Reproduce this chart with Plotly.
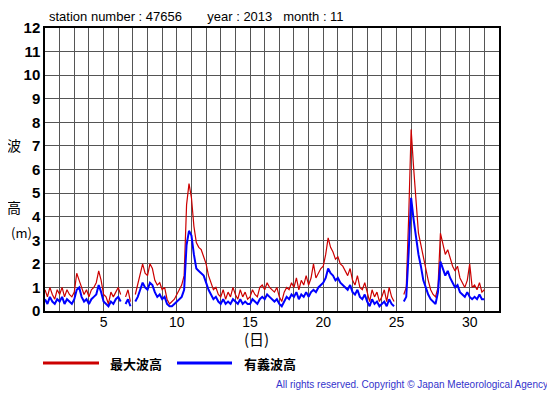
import plotly.graph_objects as go

# 6 samples per day (every 4 hours), Nov 1 00:00 .. Nov 30 20:00, plus Dec 1 00:00
max_wave = [
    0.9, 0.6, 1.0, 0.7, 0.5, 0.9,
    0.7, 1.0, 0.6, 0.9, 0.7, 0.6,
    0.8, 1.6, 1.3, 1.0, 0.7, 0.9,
    0.6, 0.9, 1.0, 1.2, 1.7, 1.3,
    0.7, 0.6, 0.3, 0.8, 0.6, 0.8,
    1.0, 0.7, None, 0.6, 0.9, 0.4,
    None, 0.7, 1.1, 1.5, 2.0, 1.6,
    1.5, 2.0, 1.8, 1.3, 1.1, 1.2,
    0.9, 1.0, 0.5, 0.3, 0.4, 0.5,
    0.7, 0.9, 1.1, 1.5, 4.5, 5.4,
    4.8, 3.6, 2.9, 2.7, 2.6, 2.3,
    2.0, 1.5, 1.2, 0.9, 1.0, 0.7,
    0.6, 0.9, 0.5, 0.8, 0.6, 1.0,
    0.7, 0.5, 0.9, 0.6, 0.8, 0.5,
    0.6, 0.9, 0.7, 0.6, 1.0, 1.1,
    0.9, 1.2, 1.0, 0.9, 0.8, 1.0,
    0.6, 0.4, 0.8, 1.0, 0.9, 1.2,
    1.0, 1.4, 0.9, 1.3, 1.1, 1.5,
    1.1, 1.4, 2.0, 1.4, 1.6, 1.8,
    1.9, 2.4, 3.1, 2.7, 2.5, 2.2,
    2.3, 2.0, 1.9, 1.7, 1.5, 1.8,
    1.3, 1.1, 1.5, 1.0, 0.9, 1.2,
    0.8, 0.4, 0.9, 0.6, 0.8, 0.4,
    0.6, 0.9, 0.4, 1.0, 0.6, 0.4,
    None, 0.6, None, 0.7, 1.0, 4.0,
    7.7, 6.1, 4.6, 3.3, 2.8, 2.3,
    1.7, 1.3, 0.9, 0.7, 0.6, 1.0,
    3.3, 2.8, 2.4, 2.6, 2.2, 1.9,
    1.7, 1.9, 1.4, 1.2, 1.0, 1.3,
    2.0, 1.0, 1.1, 0.9, 1.2, 0.8,
    0.9,
]

sig_wave = [
    0.5, 0.3, 0.6, 0.4, 0.3, 0.5,
    0.4, 0.6, 0.3, 0.5, 0.4, 0.3,
    0.5, 0.9, 1.0, 0.6, 0.4, 0.5,
    0.3, 0.5, 0.6, 0.7, 1.1, 0.8,
    0.4, 0.3, 0.2, 0.4, 0.3, 0.5,
    0.6, 0.4, None, 0.3, 0.5, 0.2,
    None, 0.4, 0.6, 0.9, 1.2, 1.0,
    0.9, 1.2, 1.1, 0.8, 0.6, 0.7,
    0.5, 0.6, 0.3, 0.2, 0.2, 0.3,
    0.4, 0.5, 0.6, 0.9, 2.8, 3.4,
    3.2, 2.4, 1.8, 1.7, 1.6, 1.5,
    1.2, 0.9, 0.7, 0.5, 0.6, 0.4,
    0.3, 0.5, 0.3, 0.4, 0.3, 0.5,
    0.4, 0.3, 0.5, 0.3, 0.4, 0.3,
    0.3, 0.5, 0.4, 0.3, 0.5, 0.6,
    0.5, 0.7, 0.6, 0.5, 0.4, 0.5,
    0.3, 0.2, 0.4, 0.6, 0.5, 0.7,
    0.6, 0.8, 0.5, 0.7, 0.6, 0.8,
    0.6, 0.8, 0.9, 0.8, 1.0, 1.1,
    1.2, 1.4, 1.8, 1.6, 1.5, 1.3,
    1.4, 1.2, 1.1, 1.0, 0.9, 1.1,
    0.8, 0.7, 0.9, 0.6, 0.5, 0.7,
    0.4, 0.2, 0.5, 0.3, 0.4, 0.2,
    0.3, 0.4, 0.2, 0.5, 0.3, 0.2,
    None, 0.3, None, 0.4, 0.6, 2.5,
    4.8, 3.9, 3.1, 2.4, 1.9, 1.3,
    1.0, 0.7, 0.5, 0.4, 0.3, 0.8,
    2.1, 1.8, 1.5, 1.7, 1.4, 1.2,
    1.0, 1.1, 0.8, 0.7, 0.6, 0.8,
    0.6, 0.5, 0.6, 0.5, 0.7, 0.5,
    0.5,
]

samples_per_day = 6
days = [1 + i / samples_per_day for i in range(len(max_wave))]

x_tick_vals = [5, 10, 15, 20, 25, 30]
y_tick_vals = list(range(0, 13))

title_text = "station number : 47656&nbsp;&nbsp;&nbsp;&nbsp;&nbsp;&nbsp;&nbsp;year : 2013&nbsp;&nbsp;&nbsp;month : 11"
legend_names = ["最大波高", "有義波高"]
colors = ["#cc0000", "#0000ff"]

# page body has an 8px margin; work in reference-pixel coords and shift
OFF = 8
W, H = 555 - OFF, 395 - OFF
L, R, T, B = 45, 499, 28, 311
pw, ph = R - L, B - T

def px(x):
    return (x - L) / pw

def py(y):
    return (B - y) / ph

fig = go.Figure()
fig.add_trace(go.Scatter(x=days, y=max_wave, mode="lines",
                         line=dict(color=colors[0], width=1.2),
                         connectgaps=False, showlegend=False))
fig.add_trace(go.Scatter(x=days, y=sig_wave, mode="lines",
                         line=dict(color=colors[1], width=2),
                         connectgaps=False, showlegend=False))

jp = "Noto Sans CJK JP"
lat = "Liberation Sans, Arial, sans-serif"

fig.update_layout(
    width=W, height=H,
    margin=dict(l=L - OFF, r=555 - R, t=T - OFF, b=395 - B),
    paper_bgcolor="white", plot_bgcolor="white",
    showlegend=False,
    xaxis=dict(range=[1, 32], tickvals=x_tick_vals, ticks="",
               showgrid=True, gridcolor="#555555", gridwidth=1,
               minor=dict(dtick=1, tick0=1, showgrid=True, gridcolor="#555555", gridwidth=1),
               zeroline=False, showline=True, linecolor="black", linewidth=1.5, mirror=True,
               ticklabelstandoff=-3,
               tickfont=dict(family=lat, size=14, color="black")),
    yaxis=dict(range=[0, 12], tickvals=y_tick_vals, ticks="",
               showgrid=True, gridcolor="#555555", gridwidth=1,
               zeroline=False, showline=True, linecolor="black", linewidth=1.5, mirror=True,
               tickfont=dict(family=lat, size=15, color="black", weight="bold")),
)

ann = []
ann.append(dict(text=title_text, x=px(47), y=py(17), xanchor="left", yanchor="middle",
                font=dict(family=lat, size=13, color="black")))
for t, yy in [("波", 145), ("高", 207)]:
    ann.append(dict(text=t, x=px(14), y=py(yy), xanchor="center", yanchor="middle",
                    font=dict(family=jp, size=14, color="black")))
ann.append(dict(text="(m)", x=px(9), y=py(232), xanchor="left", yanchor="middle",
                font=dict(family=jp, size=13, color="black")))
ann.append(dict(text="(日)", x=px(256), y=py(338), xanchor="center", yanchor="middle",
                font=dict(family=jp, size=15, color="black")))
ann.append(dict(text="<b>" + legend_names[0] + "</b>", x=px(108), y=py(363), xanchor="left", yanchor="middle",
                font=dict(family=jp, size=13, color="black")))
ann.append(dict(text="<b>" + legend_names[1] + "</b>", x=px(242), y=py(363), xanchor="left", yanchor="middle",
                font=dict(family=jp, size=13, color="black")))
ann.append(dict(text="All rights reserved. Copyright © Japan Meteorological Agency",
                x=px(550), y=py(384), xanchor="right", yanchor="middle",
                font=dict(family=lat, size=10, color="#3333cc")))
for a in ann:
    a.update(xref="paper", yref="paper", showarrow=False)
fig.update_layout(annotations=ann)

fig.add_shape(type="line", xref="paper", yref="paper", x0=px(43), x1=px(99), y0=py(363), y1=py(363),
              line=dict(color=colors[0], width=3))
fig.add_shape(type="line", xref="paper", yref="paper", x0=px(177), x1=px(232), y0=py(363), y1=py(363),
              line=dict(color=colors[1], width=3))

fig.write_html("out.html")
